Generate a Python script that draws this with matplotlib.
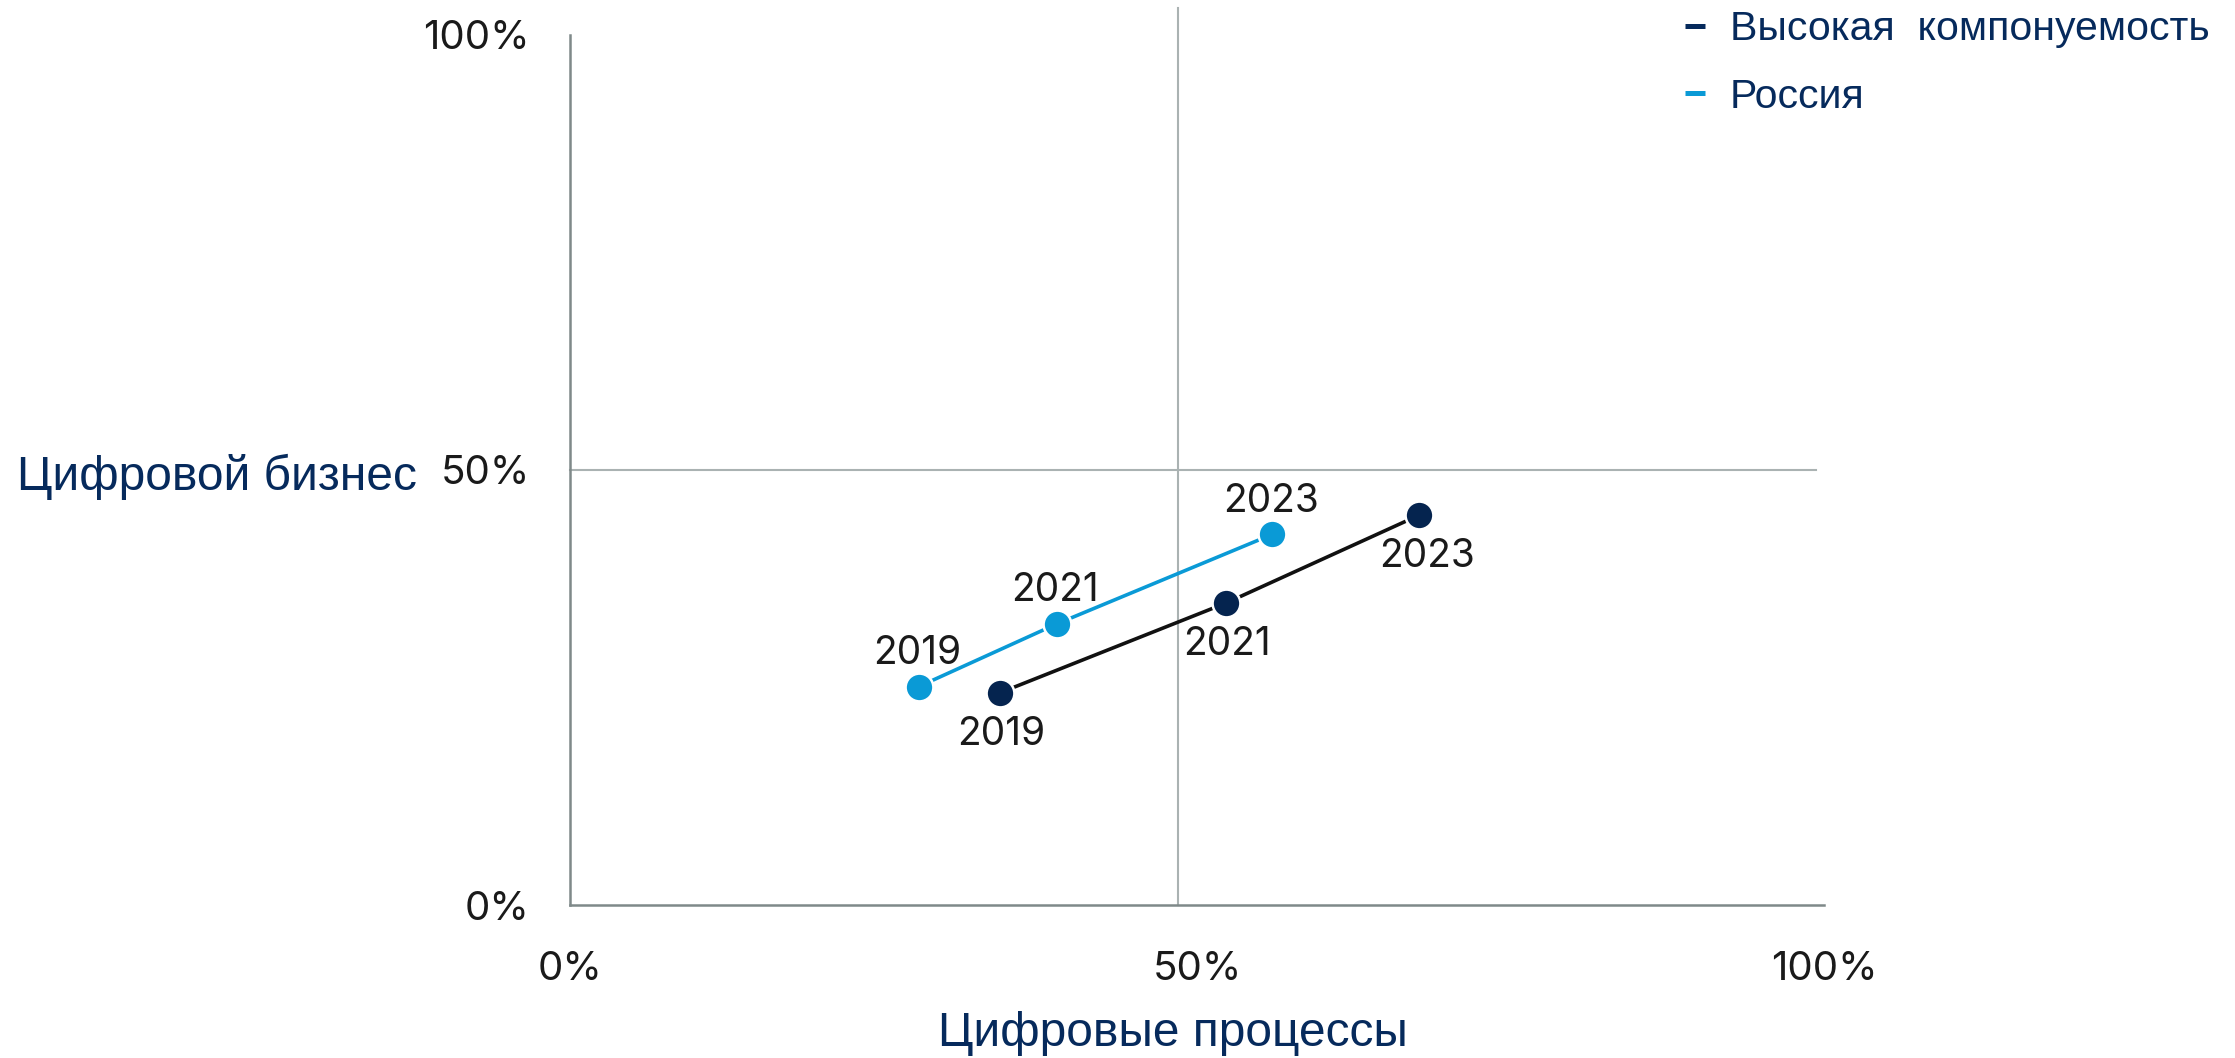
import matplotlib
matplotlib.use("Agg")
import matplotlib.pyplot as plt
from matplotlib.lines import Line2D

# ---- data (percent) ----
years = ["2019", "2021", "2023"]
high_x = [34.3, 52.3, 67.7]   # Высокая компонуемость: Цифровые процессы
high_y = [24.4, 34.7, 44.8]   # Цифровой бизнес
rus_x = [27.8, 38.8, 56.0]    # Россия
rus_y = [25.1, 32.3, 42.6]
tick_vals = [0, 50, 100]
tick_labels = ["0%", "50%", "100%"]
series_names = ["Высокая  компонуемость", "Россия"]
x_title = "Цифровые процессы"
y_title = "Цифровой бизнес"

W, H = 2235, 1058
NAVY = "#062a5c"
DARK_PT = "#05244f"
BLUE = "#0a9ad6"
GREY_AX = "#7f8989"
GREY_DIV = "#aab2b2"
NUM_FONT = ["Inter", "DejaVu Sans"]
TXT_FONT = ["Liberation Sans", "DejaVu Sans"]

fig = plt.figure(figsize=(W / 100, H / 100), dpi=100)
ax = fig.add_axes([570 / W, 1 - 905 / H, (1824 - 570) / W, (905 - 35) / H])
ax.set_xlim(0, 100)
ax.set_ylim(0, 100)

for s in ["top", "right"]:
    ax.spines[s].set_visible(False)
for s in ["left", "bottom"]:
    ax.spines[s].set_color(GREY_AX)
    ax.spines[s].set_linewidth(1.8)

ax.set_xticks(tick_vals)
ax.set_xticklabels(tick_labels)
ax.set_yticks(tick_vals)
ax.set_yticklabels(tick_labels)
ax.tick_params(axis="both", length=0, labelsize=29, colors="#1a1a1a")
ax.tick_params(axis="x", pad=33)
ax.tick_params(axis="y", pad=29)
for lbl in ax.get_xticklabels() + ax.get_yticklabels():
    lbl.set_family(NUM_FONT)

# quadrant dividers
ax.plot([48.5, 48.5], [0, 103.1], color=GREY_DIV, lw=1.5, clip_on=False, zorder=1)
ax.plot([0, 99.4], [50, 50], color=GREY_DIV, lw=1.5, clip_on=False, zorder=1)

# series
ax.plot(high_x, high_y, color="#111111", lw=2.6, marker="o", ms=20,
        mfc=DARK_PT, mec="white", mew=1.8, zorder=3, clip_on=False)
ax.plot(rus_x, rus_y, color=BLUE, lw=2.6, marker="o", ms=20,
        mfc=BLUE, mec="white", mew=1.8, zorder=3, clip_on=False)

for i, yr in enumerate(years):
    ax.annotate(yr, (rus_x[i], rus_y[i]), xytext=(-1, 24), textcoords="offset points",
                ha="center", va="center", fontsize=28, family=NUM_FONT, color="#1a1a1a")
    dx = 6 if i == len(years) - 1 else 1
    ax.annotate(yr, (high_x[i], high_y[i]), xytext=(dx, -30), textcoords="offset points",
                ha="center", va="center", fontsize=28, family=NUM_FONT, color="#1a1a1a")

# axis titles
fig.text(17 / W, 1 - 477 / H, y_title, ha="left", va="center", fontsize=34.5,
         family=TXT_FONT, color=NAVY)
fig.text(1173 / W, 1 - 1033 / H, x_title, ha="center", va="center", fontsize=34.5,
         family=TXT_FONT, color=NAVY)

# legend
handles = [Line2D([], [], color=NAVY, lw=3.6, solid_capstyle="butt"),
           Line2D([], [], color=BLUE, lw=3.6, solid_capstyle="butt")]
leg = fig.legend(handles, series_names, loc="upper left",
                 bbox_to_anchor=(1685 / W, 1 - 10 / H), frameon=False,
                 prop={"family": TXT_FONT, "size": 29.5}, handlelength=0.5,
                 handletextpad=0.6, labelspacing=0.72, borderpad=0, borderaxespad=0)
for t in leg.get_texts():
    t.set_color(NAVY)

fig.savefig("out.png", dpi=100, facecolor="white")
